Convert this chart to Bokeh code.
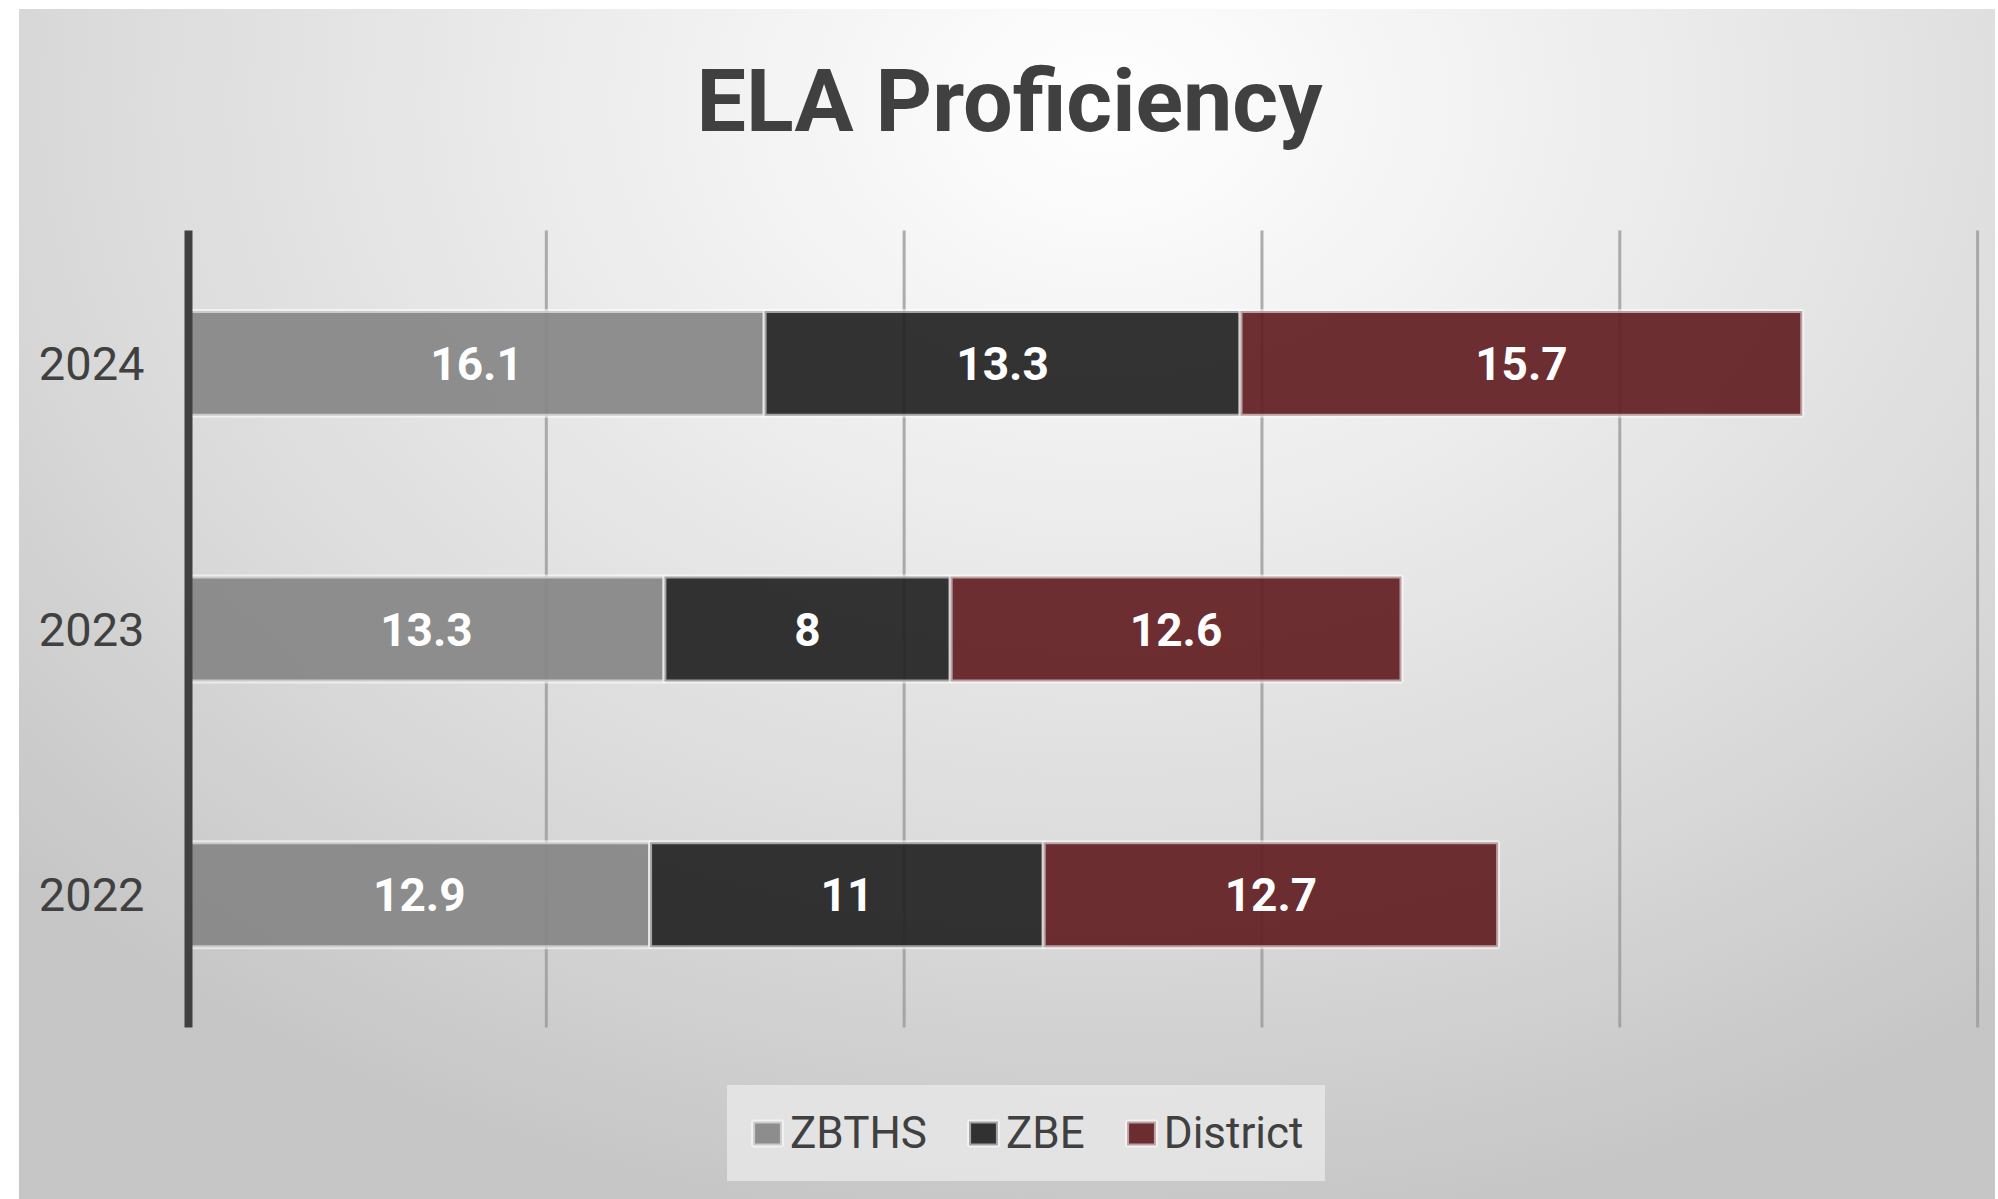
from bokeh.plotting import figure
from bokeh.models import ColumnDataSource, Range1d, FixedTicker, Legend, LegendItem, Label
from bokeh.core.properties import value
from bokeh.embed import file_html
from bokeh.resources import INLINE

# ---- data ----
years = ["2022", "2023", "2024"]
zbths = [12.9, 13.3, 16.1]
zbe = [11, 8, 13.3]
district = [12.7, 12.6, 15.7]
series = ["ZBTHS", "ZBE", "District"]
colors = ["#868686", "#232323", "#621f22"]
grid_ticks = [10, 20, 30, 40, 50]
title_text = "ELA Proficiency"

FONT = "Roboto"
TXT = "#404040"

ypos = list(range(len(years)))
src = ColumnDataSource(dict(y=ypos, ZBTHS=zbths, ZBE=zbe, District=district))

W, H = 1976, 1190
p = figure(width=W, height=H,
           y_range=Range1d(-1.147, 3.332),
           x_range=Range1d(0, 50.5),
           x_axis_location=None,
           output_backend="svg", toolbar_location=None,
           min_border=0, min_border_left=169)

p.border_fill_color = None
p.background_fill_color = None
p.outline_line_color = None
p.styles = {
    "margin-left": "19px",
    "margin-top": "9px",
    "background": "radial-gradient(ellipse 75% 95% at 55% 8%, #ffffff 0%, #ededed 35%, #dadada 70%, #c6c6c6 100%)",
}

# y axis (category labels)
band_lo, band_hi = min(ypos) - 0.5, max(ypos) + 0.5
p.yaxis.ticker = FixedTicker(ticks=ypos)
p.yaxis.major_label_overrides = {i: y for i, y in zip(ypos, years)}
p.yaxis.bounds = (band_lo, band_hi)
p.yaxis.axis_line_width = 8
p.yaxis.axis_line_color = TXT
p.yaxis.major_tick_line_color = None
p.yaxis.minor_tick_line_color = None
p.yaxis.major_tick_out = 0
p.yaxis.minor_tick_out = 0
p.yaxis.major_label_standoff = 44
p.yaxis.major_label_text_font = FONT
p.yaxis.major_label_text_font_size = "47px"
p.yaxis.major_label_text_color = TXT

# grid (vertical lines limited to the category band)
p.xgrid.visible = False
p.ygrid.visible = False
p.segment(x0=grid_ticks, x1=grid_ticks, y0=band_lo, y1=band_hi,
          line_color="#9a9a9a", line_width=3, line_alpha=0.8, level="underlay")

# bars
renderers = p.hbar_stack(series, y="y", height=0.395, color=colors, source=src,
                         line_color="white", line_alpha=0.55, line_width=4, fill_alpha=0.93)

# data labels at segment centers
lx, ly, lt = [], [], []
data_cols = [zbths, zbe, district]
for i, y in enumerate(ypos):
    start = 0.0
    for col in data_cols:
        v = col[i]
        lx.append(start + v / 2.0)
        ly.append(y)
        lt.append(f"{v:g}")
        start += v
lsrc = ColumnDataSource(dict(x=lx, y=ly, text=lt))
p.text(x="x", y="y", text="text", source=lsrc, text_align="center", text_baseline="middle",
       text_color="white", text_font=value(FONT), text_font_size="46px", text_font_style="bold")

# title
title = Label(x=821, y=H - 91, x_units="screen", y_units="screen", text=title_text,
              text_align="center", text_baseline="alphabetic",
              text_font=FONT, text_font_size="88px", text_font_style="bold", text_color=TXT)
p.add_layout(title)

# legend
legend = Legend(items=[LegendItem(label=s, renderers=[r]) for s, r in zip(series, renderers)],
                location=(539, 18), orientation="horizontal", padding=22, margin=0)
legend.label_text_font = FONT
legend.label_text_font_size = "44px"
legend.label_text_color = TXT
legend.glyph_width = 36
legend.glyph_height = 30
legend.label_standoff = 5
legend.spacing = 38
legend.background_fill_color = "#e8e8e8"
legend.background_fill_alpha = 0.8
legend.border_line_color = "#e8e8e8"
legend.border_line_alpha = 0.0
p.add_layout(legend)

open("out.html", "w").write(file_html(p, INLINE))
